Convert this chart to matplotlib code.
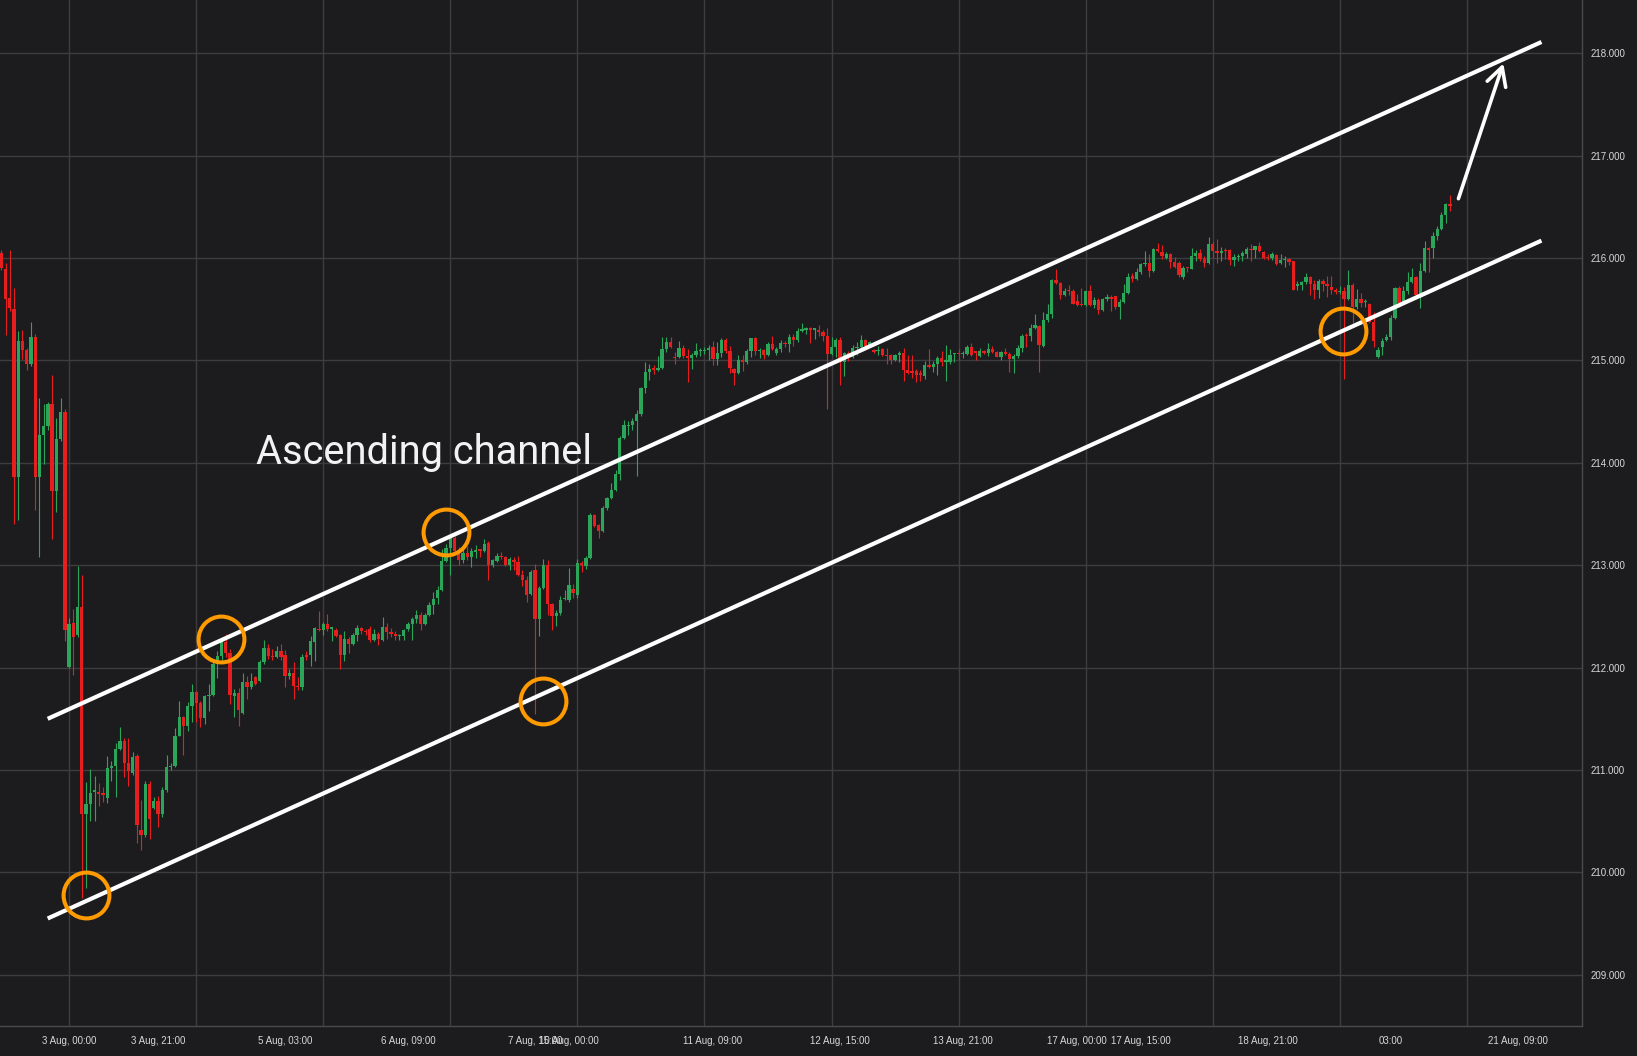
import numpy as np
import matplotlib
matplotlib.use('Agg')
import matplotlib.pyplot as plt

# hourly candles, x = trading hour index (weekend gap removed)
opens = [
    216.05, 215.89, 215.61, 215.50, 213.86, 215.19, 215.10, 214.97, 215.23, 213.86,
    214.27, 214.36, 214.57, 213.72, 214.23, 214.50, 212.01, 212.44, 212.32, 212.59,
    210.57, 210.67, 210.79, 210.79, 210.78, 210.73, 211.02, 211.04, 211.21, 211.28,
    211.07, 210.97, 211.14, 210.41, 210.37, 210.86, 210.63, 210.70, 210.57, 210.80,
    211.03, 211.04, 211.33, 211.52, 211.43, 211.63, 211.76, 211.65, 211.51, 211.72,
    211.73, 212.04, 212.11, 212.25, 212.14, 211.72, 211.75, 211.56, 211.86, 211.81,
    211.91, 211.87, 212.05, 212.19, 212.11, 212.10, 212.16, 212.12, 211.92, 211.95,
    211.82, 211.81, 212.12, 212.12, 212.25, 212.38, 212.37, 212.43, 212.38, 212.37,
    212.32, 212.12, 212.28, 212.23, 212.32, 212.39, 212.36, 212.38, 212.27, 212.33,
    212.27, 212.40, 212.35, 212.33, 212.31, 212.31, 212.38, 212.43, 212.47, 212.51,
    212.43, 212.51, 212.61, 212.68, 212.76, 213.04, 213.17, 213.27, 213.14, 213.05,
    213.12, 213.08, 213.13, 213.16, 213.14, 213.22, 213.00, 213.04, 213.09, 213.08,
    213.00, 213.05, 213.03, 212.90, 212.86, 212.72, 212.95, 212.47, 212.78, 213.00,
    212.62, 212.50, 212.53, 212.67, 212.66, 212.77, 212.71, 213.02, 212.99, 213.07,
    213.49, 213.39, 213.33, 213.56, 213.66, 213.73, 213.89, 214.24, 214.36, 214.37,
    214.41, 214.48, 214.73, 214.89, 214.92, 214.91, 214.93, 215.11, 215.18, 215.03,
    215.03, 215.12, 215.04, 215.02, 215.05, 215.09, 215.09, 215.10, 215.13, 215.01,
    215.07, 215.20, 215.09, 214.92, 214.88, 215.00, 214.98, 215.09, 215.22, 215.09,
    215.10, 215.05, 215.16, 215.07, 215.11, 215.17, 215.16, 215.23, 215.20, 215.29,
    215.30, 215.32, 215.30, 215.30, 215.28, 215.24, 215.06, 215.13, 215.20, 214.98,
    215.07, 215.03, 215.12, 215.13, 215.20, 215.14, 215.10, 215.09, 215.11, 215.05,
    215.05, 215.00, 215.05, 215.07, 214.91, 214.89, 214.90, 214.88, 214.85, 214.96,
    214.94, 214.97, 215.02, 214.98, 214.98, 215.06, 215.07, 215.06, 215.06, 215.13,
    215.09, 215.04, 215.09, 215.07, 215.11, 215.08, 215.03, 215.08, 215.06, 215.01,
    215.04, 215.12, 215.25, 215.24, 215.32, 215.34, 215.14, 215.39, 215.45, 215.79,
    215.76, 215.64, 215.69, 215.68, 215.58, 215.55, 215.54, 215.68, 215.54, 215.59,
    215.49, 215.60, 215.62, 215.63, 215.52, 215.57, 215.66, 215.82, 215.80, 215.86,
    215.94, 215.95, 215.87, 216.09, 216.06, 216.00, 216.04, 215.96, 215.95, 215.81,
    215.91, 215.89, 216.02, 216.05, 215.99, 215.95, 216.14, 216.07, 216.05, 216.08,
    216.08, 215.98, 216.01, 216.02, 216.04, 216.09, 216.08, 216.12, 216.06, 216.01,
    216.00, 216.03, 215.95, 215.98, 215.99, 215.97, 215.73, 215.74, 215.77, 215.81,
    215.75, 215.69, 215.78, 215.75, 215.72, 215.69, 215.67, 215.68, 215.60, 215.74,
    215.52, 215.60, 215.57, 215.55, 215.38, 215.03, 215.13, 215.20, 215.23, 215.41,
    215.71, 215.56, 215.68, 215.77, 215.81, 215.64, 215.87, 216.10, 216.10, 216.22,
    216.28, 216.42, 216.53,
]
highs = [
    216.08, 215.95, 216.08, 215.71, 215.29, 215.30, 215.12, 215.38, 215.26, 214.63,
    214.57, 214.59, 214.86, 214.44, 214.63, 214.53, 212.48, 212.57, 212.99, 212.90,
    210.88, 211.01, 210.94, 210.87, 210.83, 211.14, 211.09, 211.26, 211.42, 211.31,
    211.31, 211.18, 211.16, 210.71, 210.89, 210.89, 210.74, 210.75, 210.83, 211.15,
    211.07, 211.41, 211.67, 211.53, 211.66, 211.84, 211.77, 211.67, 211.73, 211.84,
    212.05, 212.16, 212.30, 212.33, 212.18, 211.79, 211.80, 211.95, 211.92, 211.95,
    211.92, 212.07, 212.27, 212.23, 212.18, 212.21, 212.23, 212.17, 211.99, 212.05,
    211.91, 212.13, 212.16, 212.31, 212.40, 212.55, 212.45, 212.52, 212.40, 212.39,
    212.33, 212.36, 212.30, 212.34, 212.42, 212.40, 212.38, 212.41, 212.38, 212.35,
    212.49, 212.44, 212.39, 212.36, 212.33, 212.38, 212.45, 212.49, 212.56, 212.54,
    212.53, 212.64, 212.74, 212.80, 213.16, 213.21, 213.29, 213.29, 213.18, 213.17,
    213.19, 213.17, 213.20, 213.16, 213.26, 213.24, 213.06, 213.12, 213.13, 213.09,
    213.08, 213.08, 213.09, 212.95, 212.89, 212.95, 213.01, 212.80, 213.06, 213.05,
    212.63, 212.56, 212.70, 212.76, 212.97, 212.82, 213.06, 213.04, 213.09, 213.51,
    213.50, 213.40, 213.58, 213.67, 213.80, 213.93, 214.26, 214.42, 214.41, 214.44,
    214.52, 214.74, 214.98, 214.97, 214.96, 215.04, 215.23, 215.23, 215.23, 215.08,
    215.19, 215.15, 215.11, 215.07, 215.17, 215.12, 215.13, 215.15, 215.19, 215.18,
    215.22, 215.22, 215.14, 214.93, 215.05, 215.05, 215.11, 215.22, 215.23, 215.12,
    215.11, 215.18, 215.24, 215.13, 215.20, 215.19, 215.26, 215.26, 215.32, 215.37,
    215.33, 215.33, 215.32, 215.35, 215.30, 215.32, 215.23, 215.22, 215.23, 215.08,
    215.09, 215.15, 215.18, 215.25, 215.21, 215.19, 215.11, 215.14, 215.12, 215.12,
    215.06, 215.06, 215.09, 215.12, 215.05, 215.05, 214.92, 214.91, 214.99, 215.11,
    214.99, 215.04, 215.09, 215.15, 215.11, 215.07, 215.11, 215.09, 215.15, 215.17,
    215.09, 215.12, 215.10, 215.17, 215.14, 215.09, 215.09, 215.12, 215.08, 215.06,
    215.15, 215.26, 215.27, 215.36, 215.45, 215.35, 215.47, 215.55, 215.80, 215.89,
    215.77, 215.71, 215.74, 215.70, 215.65, 215.71, 215.69, 215.74, 215.62, 215.61,
    215.61, 215.65, 215.64, 215.63, 215.60, 215.75, 215.85, 215.85, 215.90, 215.95,
    216.07, 216.04, 216.10, 216.15, 216.13, 216.06, 216.05, 216.01, 215.97, 215.92,
    215.91, 216.10, 216.08, 216.09, 216.02, 216.21, 216.17, 216.19, 216.11, 216.10,
    216.09, 216.04, 216.04, 216.07, 216.11, 216.14, 216.12, 216.16, 216.07, 216.04,
    216.06, 216.04, 216.04, 216.02, 216.00, 215.97, 215.78, 215.78, 215.85, 215.82,
    215.79, 215.80, 215.80, 215.82, 215.82, 215.71, 215.73, 215.72, 215.88, 215.76,
    215.70, 215.66, 215.60, 215.56, 215.47, 215.13, 215.22, 215.26, 215.44, 215.72,
    215.73, 215.73, 215.86, 215.90, 215.82, 215.95, 216.17, 216.11, 216.25, 216.31,
    216.45, 216.54, 216.62,
]
lows = [
    215.88, 215.25, 215.48, 213.40, 213.44, 215.01, 214.91, 214.95, 213.54, 213.08,
    213.99, 214.32, 213.26, 213.52, 214.21, 212.26, 212.00, 211.93, 212.30, 209.75,
    209.85, 210.50, 210.50, 210.65, 210.69, 210.68, 210.89, 210.74, 211.20, 210.93,
    210.84, 210.95, 210.29, 210.22, 210.35, 210.33, 210.62, 210.44, 210.54, 210.79,
    211.00, 211.03, 211.33, 211.15, 211.38, 211.47, 211.47, 211.42, 211.45, 211.58,
    211.72, 211.90, 212.07, 212.10, 211.64, 211.52, 211.43, 211.55, 211.69, 211.79,
    211.83, 211.86, 212.04, 212.08, 212.07, 212.09, 212.07, 211.81, 211.89, 211.69,
    211.78, 211.78, 212.07, 212.02, 212.06, 212.36, 212.32, 212.36, 212.26, 212.30,
    211.99, 212.06, 212.14, 212.22, 212.26, 212.33, 212.32, 212.25, 212.26, 212.22,
    212.26, 212.28, 212.30, 212.27, 212.27, 212.27, 212.36, 212.27, 212.44, 212.37,
    212.42, 212.50, 212.52, 212.62, 212.75, 213.03, 212.90, 213.12, 213.00, 213.02,
    213.05, 212.98, 213.07, 213.08, 213.13, 212.86, 212.98, 213.03, 213.06, 212.99,
    212.95, 212.95, 212.89, 212.80, 212.64, 212.71, 211.55, 212.31, 212.77, 212.51,
    212.37, 212.41, 212.51, 212.66, 212.64, 212.68, 212.68, 212.93, 212.96, 213.06,
    213.37, 213.27, 213.32, 213.54, 213.65, 213.72, 213.83, 214.23, 214.27, 214.32,
    213.87, 214.46, 214.68, 214.81, 214.87, 214.90, 214.92, 215.08, 215.12, 214.97,
    215.02, 215.02, 214.79, 214.92, 215.03, 215.04, 215.06, 215.00, 214.96, 214.96,
    215.03, 215.07, 214.88, 214.76, 214.87, 214.90, 214.97, 215.03, 215.05, 215.02,
    215.01, 215.04, 215.10, 215.05, 215.08, 215.13, 215.08, 215.14, 215.18, 215.28,
    215.26, 215.17, 215.21, 215.24, 215.19, 214.53, 215.05, 215.03, 214.76, 214.85,
    214.99, 215.02, 215.05, 215.12, 215.13, 215.13, 215.07, 215.05, 215.04, 214.97,
    214.97, 214.99, 214.98, 214.80, 214.87, 214.83, 214.79, 214.80, 214.82, 214.93,
    214.89, 214.86, 214.95, 214.80, 214.97, 214.98, 215.00, 215.02, 215.05, 215.04,
    215.00, 215.03, 215.06, 215.04, 215.07, 215.03, 215.00, 215.05, 214.89, 214.88,
    215.02, 215.08, 215.13, 215.19, 215.31, 214.89, 215.13, 215.38, 215.41, 215.75,
    215.60, 215.63, 215.64, 215.55, 215.53, 215.53, 215.53, 215.53, 215.51, 215.45,
    215.48, 215.58, 215.48, 215.50, 215.40, 215.56, 215.65, 215.77, 215.79, 215.84,
    215.92, 215.81, 215.86, 216.06, 215.99, 215.99, 215.90, 215.90, 215.81, 215.80,
    215.86, 215.89, 215.97, 215.97, 215.91, 215.94, 216.00, 215.95, 215.97, 215.99,
    215.93, 215.92, 215.97, 215.97, 216.00, 215.97, 216.00, 216.06, 215.99, 215.98,
    215.98, 215.93, 215.94, 215.91, 215.93, 215.69, 215.69, 215.69, 215.75, 215.64,
    215.60, 215.61, 215.68, 215.62, 215.65, 215.65, 215.65, 214.82, 215.59, 215.37,
    215.50, 215.52, 215.52, 215.37, 215.13, 215.02, 215.05, 215.19, 215.20, 215.40,
    215.52, 215.55, 215.65, 215.76, 215.63, 215.51, 215.86, 215.86, 216.00, 216.18,
    216.27, 216.34, 216.46,
]
closes = [
    215.90, 215.60, 215.51, 213.86, 215.19, 215.10, 214.97, 215.23, 213.86, 214.27,
    214.36, 214.57, 213.72, 214.23, 214.50, 212.37, 212.43, 212.30, 212.59, 210.57,
    210.67, 210.78, 210.80, 210.77, 210.76, 211.02, 211.04, 211.21, 211.28, 211.07,
    210.99, 211.13, 210.46, 210.37, 210.86, 210.52, 210.70, 210.57, 210.80, 211.03,
    211.04, 211.33, 211.52, 211.43, 211.63, 211.76, 211.65, 211.51, 211.72, 211.73,
    212.04, 212.11, 212.25, 212.14, 211.73, 211.75, 211.59, 211.86, 211.81, 211.87,
    211.84, 212.05, 212.19, 212.11, 212.10, 212.16, 212.10, 211.92, 211.95, 211.82,
    211.81, 212.10, 212.10, 212.26, 212.39, 212.37, 212.43, 212.38, 212.38, 212.31,
    212.12, 212.28, 212.23, 212.32, 212.39, 212.36, 212.35, 212.27, 212.33, 212.28,
    212.40, 212.35, 212.33, 212.31, 212.32, 212.37, 212.43, 212.47, 212.51, 212.43,
    212.51, 212.61, 212.67, 212.76, 213.04, 213.17, 213.27, 213.14, 213.05, 213.12,
    213.08, 213.14, 213.15, 213.14, 213.21, 213.00, 213.05, 213.09, 213.08, 213.00,
    213.06, 213.03, 212.90, 212.86, 212.71, 212.93, 212.47, 212.78, 213.00, 212.62,
    212.50, 212.53, 212.66, 212.68, 212.81, 212.73, 213.02, 213.00, 213.07, 213.49,
    213.38, 213.33, 213.56, 213.66, 213.73, 213.89, 214.24, 214.37, 214.37, 214.41,
    214.48, 214.73, 214.89, 214.92, 214.91, 214.93, 215.11, 215.18, 215.13, 215.02,
    215.12, 215.04, 215.02, 215.05, 215.09, 215.10, 215.10, 215.12, 215.01, 215.07,
    215.20, 215.09, 214.93, 214.88, 215.00, 214.98, 215.09, 215.22, 215.09, 215.10,
    215.05, 215.16, 215.11, 215.11, 215.17, 215.16, 215.23, 215.20, 215.29, 215.31,
    215.31, 215.30, 215.31, 215.28, 215.24, 215.06, 215.13, 215.20, 214.98, 215.07,
    215.03, 215.12, 215.13, 215.20, 215.14, 215.18, 215.08, 215.10, 215.05, 215.04,
    215.00, 215.05, 215.07, 214.91, 214.88, 214.88, 214.86, 214.86, 214.96, 214.94,
    214.97, 215.02, 214.98, 215.00, 215.05, 215.06, 215.06, 215.07, 215.13, 215.05,
    215.07, 215.09, 215.07, 215.11, 215.08, 215.03, 215.08, 215.06, 215.01, 215.04,
    215.12, 215.24, 215.24, 215.32, 215.35, 215.15, 215.39, 215.45, 215.79, 215.76,
    215.64, 215.68, 215.68, 215.55, 215.54, 215.54, 215.68, 215.54, 215.59, 215.49,
    215.60, 215.62, 215.60, 215.52, 215.57, 215.66, 215.81, 215.80, 215.86, 215.94,
    215.95, 215.87, 216.09, 216.07, 216.02, 216.04, 215.96, 215.91, 215.83, 215.90,
    215.90, 216.02, 216.05, 215.99, 215.95, 216.14, 216.07, 216.05, 216.07, 216.07,
    215.98, 216.01, 216.02, 216.05, 216.09, 216.08, 216.12, 216.07, 216.00, 216.00,
    216.04, 215.94, 215.98, 215.99, 215.96, 215.69, 215.74, 215.77, 215.81, 215.75,
    215.69, 215.78, 215.75, 215.73, 215.69, 215.67, 215.68, 215.60, 215.74, 215.52,
    215.60, 215.56, 215.57, 215.38, 215.19, 215.10, 215.19, 215.23, 215.41, 215.71,
    215.56, 215.68, 215.77, 215.81, 215.64, 215.87, 216.10, 216.08, 216.22, 216.28,
    216.42, 216.53, 216.51,
]

price_ticks = [209, 210, 211, 212, 213, 214, 215, 216, 217, 218]
grid_x = [16, 46, 76, 106, 136, 166, 196, 226, 256, 286, 316, 346]
time_pos = [16, 37, 67, 96, 126, 134, 168, 198, 227, 254, 269, 299, 328, 358]
time_labels = ['3 Aug, 00:00', '3 Aug, 21:00', '5 Aug, 03:00', '6 Aug, 09:00',
               '7 Aug, 15:00', '10 Aug, 00:00', '11 Aug, 09:00', '12 Aug, 15:00',
               '13 Aug, 21:00', '17 Aug, 00:00', '17 Aug, 15:00', '18 Aug, 21:00',
               '03:00', '21 Aug, 09:00']

# drawn channel and the touch points
channel_x = [10.95, 363.6]
upper_y = [211.50, 218.11]
lower_y = [209.55, 216.17]
touch_x = [19.9, 51.9, 104.9, 127.9, 316.8]
touch_y = [209.78, 212.28, 213.32, 211.67, 215.29]
arrow_from = (344.0, 216.58)
arrow_to = (354.6, 217.90)

bg = '#1c1c1e'
grid_col = '#3d3d40'
up_col = '#2aa55a'
dn_col = '#e61e1e'
txt_col = '#d8d8d8'

fig = plt.figure(figsize=(16.37, 10.56), dpi=100)
fig.patch.set_facecolor(bg)
ax = fig.add_axes([0, 30 / 1056, 1581.7 / 1637, 1026 / 1056])
ax.set_facecolor(bg)

o = np.array(opens)
h = np.array(highs)
l = np.array(lows)
c = np.array(closes)
x = np.arange(len(o))
cols = np.where(c >= o, up_col, dn_col)

ax.vlines(x, l, h, colors=cols, linewidth=0.8, zorder=2)
body_h = np.maximum(np.abs(c - o), 0.012)
ax.bar(x, body_h, bottom=np.minimum(o, c), width=0.78, color=cols, linewidth=0, zorder=3)

ax.plot(channel_x, upper_y, color='white', lw=3, solid_capstyle='butt', zorder=5)
ax.plot(channel_x, lower_y, color='white', lw=3, solid_capstyle='butt', zorder=5)
ax.plot(touch_x, touch_y, 'o', ms=33, mfc='none', mec='#ff9a00', mew=2.9, zorder=6)
ax.annotate('', xy=arrow_to, xytext=arrow_from,
            arrowprops=dict(arrowstyle='->,head_length=0.65,head_width=0.35', color='white',
                            lw=2.6, mutation_scale=20, shrinkA=0, shrinkB=0), zorder=6)
ax.text(60.1, 213.99, 'Ascending channel', color='#f2f2f2', fontsize=28.7,
        family='Roboto', ha='left', va='baseline', zorder=6)

ax.set_xlim(-0.31, 373.1)
ax.set_ylim(208.50, 218.52)

# gridlines on major ticks, date labels on minor ticks (they do not line up)
ax.xaxis.remove_overlapping_locs = False
ax.set_xticks(grid_x, labels=[])
ax.set_xticks(time_pos, labels=time_labels, minor=True)
ax.tick_params(axis='x', which='both', length=0, pad=7, labelsize=7, labelcolor=txt_col)
for t in ax.get_xticklabels(minor=True):
    t.set_family('Liberation Sans')

ax.yaxis.tick_right()
ax.set_yticks(price_ticks, labels=[f'{v:.3f}' for v in price_ticks])
ax.tick_params(axis='y', length=0, pad=6.5, labelsize=7, labelcolor=txt_col)
for t in ax.get_yticklabels():
    t.set_family('Liberation Sans')

ax.grid(True, which='major', color=grid_col, linewidth=1)
ax.set_axisbelow(True)
for s in ['left', 'top']:
    ax.spines[s].set_visible(False)
for s in ['right', 'bottom']:
    ax.spines[s].set_color('#4a4a4d')
    ax.spines[s].set_linewidth(1)

fig.savefig('out.png', dpi=100, facecolor=bg)
